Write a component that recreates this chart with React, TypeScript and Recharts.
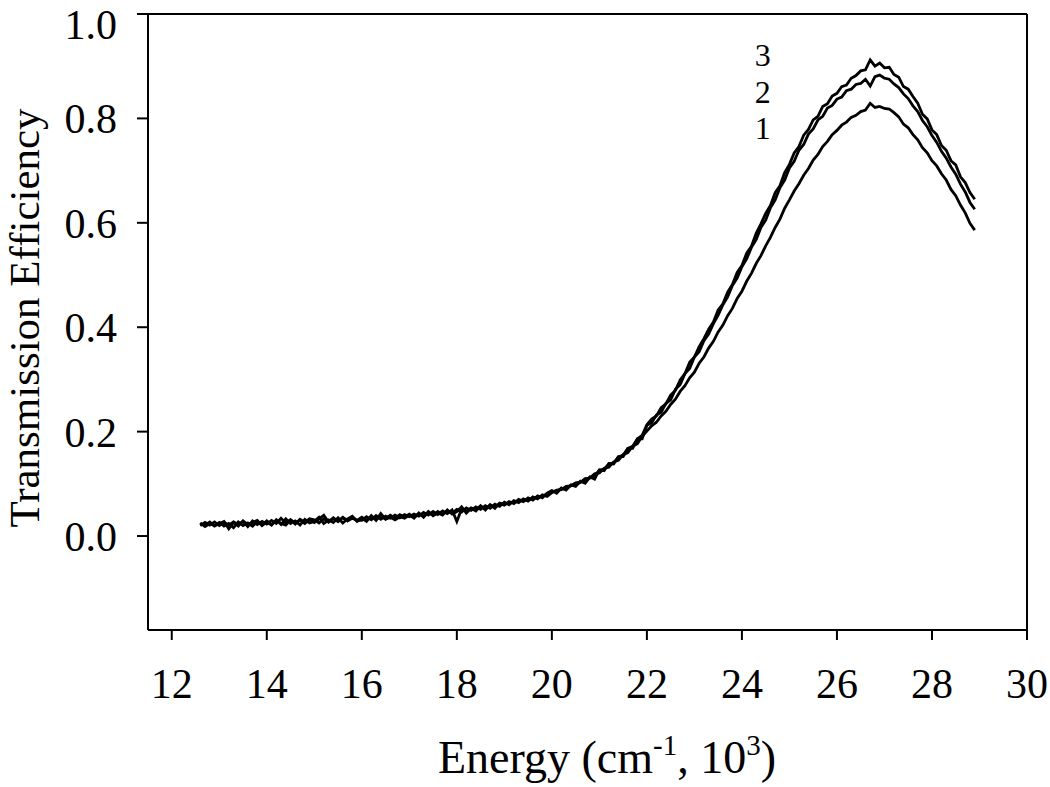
import {
  LineChart,
  Line,
  XAxis,
  YAxis,
  ReferenceLine,
  ReferenceDot,
} from "recharts";

const FONT = "'Liberation Serif', 'Times New Roman', serif";

// sampling grid of the spectra (10^3 cm^-1)
const energyStart = 12.6;
const energyStep = 0.1;

// curve 1 (lowest peak)
const series1 = [
  0.025, 0.018, 0.024, 0.020,
  0.026, 0.019, 0.024, 0.016, 0.027, 0.020, 0.025, 0.019, 0.028, 0.021,
  0.029, 0.022, 0.030, 0.024, 0.021, 0.031, 0.025, 0.030, 0.024, 0.032,
  0.026, 0.033, 0.040, 0.027, 0.034, 0.028, 0.035, 0.029, 0.036, 0.030,
  0.036, 0.030, 0.038, 0.032, 0.037, 0.033, 0.040, 0.034, 0.041, 0.036,
  0.042, 0.036, 0.043, 0.038, 0.045, 0.040, 0.047, 0.041, 0.048, 0.044,
  0.051, 0.046, 0.054, 0.049, 0.056, 0.051, 0.058, 0.053, 0.061, 0.057,
  0.065, 0.060, 0.068, 0.064, 0.071, 0.067, 0.075, 0.071, 0.079, 0.076,
  0.083, 0.088, 0.089, 0.095, 0.096, 0.102, 0.103, 0.110, 0.111, 0.119,
  0.121, 0.130, 0.132, 0.142, 0.145, 0.156, 0.160, 0.172, 0.177, 0.191,
  0.201, 0.211, 0.218, 0.230, 0.239, 0.252, 0.262, 0.277, 0.288, 0.303,
  0.314, 0.331, 0.343, 0.360, 0.373, 0.391, 0.404, 0.422, 0.436, 0.455,
  0.469, 0.488, 0.503, 0.522, 0.537, 0.556, 0.572, 0.591, 0.607, 0.628,
  0.644, 0.661, 0.675, 0.691, 0.704, 0.720, 0.731, 0.746, 0.756, 0.769,
  0.777, 0.787, 0.793, 0.802, 0.806, 0.813, 0.816, 0.829, 0.821, 0.823,
  0.819, 0.818, 0.811, 0.803, 0.789, 0.782, 0.769, 0.759, 0.744, 0.734,
  0.719, 0.709, 0.694, 0.682, 0.664, 0.652, 0.634, 0.619, 0.599, 0.586,
];

// curve 2
const series2 = [
  0.020, 0.026, 0.021, 0.027,
  0.020, 0.026, 0.021, 0.027, 0.022, 0.028, 0.018, 0.029, 0.022, 0.028,
  0.023, 0.030, 0.024, 0.034, 0.025, 0.031, 0.023, 0.032, 0.026, 0.033,
  0.031, 0.025, 0.033, 0.027, 0.035, 0.028, 0.036, 0.029, 0.034, 0.030,
  0.030, 0.037, 0.031, 0.039, 0.032, 0.038, 0.034, 0.040, 0.035, 0.041,
  0.037, 0.042, 0.038, 0.045, 0.040, 0.047, 0.041, 0.048, 0.043, 0.050,
  0.028, 0.052, 0.047, 0.054, 0.050, 0.057, 0.052, 0.059, 0.055, 0.062,
  0.059, 0.066, 0.062, 0.070, 0.066, 0.073, 0.069, 0.077, 0.073, 0.082,
  0.087, 0.082, 0.092, 0.088, 0.098, 0.095, 0.105, 0.101, 0.113, 0.109,
  0.127, 0.125, 0.139, 0.138, 0.152, 0.152, 0.168, 0.168, 0.186, 0.186,
  0.212, 0.217, 0.232, 0.237, 0.254, 0.261, 0.281, 0.290, 0.311, 0.321,
  0.343, 0.353, 0.374, 0.387, 0.407, 0.423, 0.443, 0.458, 0.480, 0.494,
  0.516, 0.531, 0.553, 0.568, 0.591, 0.605, 0.629, 0.644, 0.667, 0.682,
  0.705, 0.718, 0.739, 0.750, 0.770, 0.780, 0.797, 0.804, 0.820, 0.825,
  0.837, 0.841, 0.853, 0.856, 0.865, 0.867, 0.875, 0.862, 0.880, 0.883,
  0.877, 0.875, 0.866, 0.859, 0.847, 0.838, 0.824, 0.813, 0.796, 0.784,
  0.767, 0.754, 0.737, 0.724, 0.707, 0.693, 0.674, 0.659, 0.639, 0.626,
];

// curve 3 (highest peak)
const series3 = [
  0.023, 0.021, 0.027, 0.019,
  0.024, 0.028, 0.014, 0.026, 0.019, 0.029, 0.022, 0.026, 0.030, 0.020,
  0.027, 0.021, 0.031, 0.022, 0.033, 0.024, 0.029, 0.021, 0.032, 0.025,
  0.028, 0.036, 0.024, 0.031, 0.026, 0.035, 0.025, 0.033, 0.038, 0.028,
  0.034, 0.028, 0.039, 0.030, 0.043, 0.032, 0.036, 0.031, 0.037, 0.034,
  0.040, 0.034, 0.044, 0.036, 0.047, 0.039, 0.044, 0.040, 0.050, 0.042,
  0.047, 0.056, 0.044, 0.053, 0.048, 0.058, 0.050, 0.060, 0.053, 0.063,
  0.061, 0.064, 0.064, 0.067, 0.068, 0.070, 0.072, 0.074, 0.076, 0.081,
  0.086, 0.085, 0.091, 0.090, 0.097, 0.098, 0.103, 0.107, 0.112, 0.116,
  0.126, 0.128, 0.138, 0.140, 0.151, 0.155, 0.168, 0.172, 0.186, 0.193,
  0.213, 0.224, 0.230, 0.246, 0.253, 0.270, 0.279, 0.299, 0.311, 0.333,
  0.343, 0.363, 0.378, 0.396, 0.410, 0.433, 0.445, 0.467, 0.482, 0.505,
  0.518, 0.542, 0.555, 0.580, 0.598, 0.618, 0.633, 0.658, 0.671, 0.696,
  0.712, 0.734, 0.746, 0.768, 0.779, 0.797, 0.804, 0.823, 0.828, 0.843,
  0.848, 0.861, 0.864, 0.877, 0.882, 0.891, 0.893, 0.912, 0.900, 0.906,
  0.897, 0.898, 0.884, 0.879, 0.861, 0.856, 0.842, 0.829, 0.808, 0.799,
  0.778, 0.769, 0.748, 0.739, 0.719, 0.711, 0.688, 0.677, 0.658, 0.645,
];

const xTicks = [12, 14, 16, 18, 20, 22, 24, 26, 28, 30];
const yTicks = [0, 0.2, 0.4, 0.6, 0.8, 1.0];

// curve labels: [text, energy, efficiency]
const curveLabels: [string, number, number][] = [
  ["3", 24.44, 0.923],
  ["2", 24.44, 0.851],
  ["1", 24.44, 0.783],
];

const data = series1.map((v, i) => ({
  energy: +(energyStart + i * energyStep).toFixed(1),
  s1: v,
  s2: series2[i],
  s3: series3[i],
}));

const XTitle = () => (
  <text
    x={607}
    y={773}
    textAnchor="middle"
    fontFamily={FONT}
    fontSize={46}
    fill="#000"
  >
    Energy (cm
    <tspan dy={-18} fontSize={29}>
      -1
    </tspan>
    <tspan dy={18}>, 10</tspan>
    <tspan dy={-18} fontSize={29}>
      3
    </tspan>
    <tspan dy={18}>)</tspan>
  </text>
);

const YTitle = () => (
  <text
    x={39}
    y={318}
    transform="rotate(-90 39 318)"
    textAnchor="middle"
    fontFamily={FONT}
    fontSize={43}
    fill="#000"
  >
    Transmission Efficiency
  </text>
);

export default function App() {
  return (
    <div style={{ position: "absolute", left: 0, top: 0, background: "#fff" }}>
      <LineChart
        width={1050}
        height={787}
        data={data}
        margin={{ top: 14, right: 23, left: 0, bottom: 0 }}
      >
        <XAxis
          dataKey="energy"
          type="number"
          domain={[11.5, 30]}
          ticks={xTicks}
          height={157}
          stroke="#000"
          strokeWidth={2}
          tickSize={10}
          tickMargin={28}
          tick={{ fill: "#000", fontSize: 42, fontFamily: FONT }}
          label={<XTitle />}
        />
        <YAxis
          type="number"
          domain={[-0.18, 1.0]}
          ticks={yTicks}
          width={148}
          stroke="#000"
          strokeWidth={2}
          tickSize={11}
          tickMargin={20}
          tickFormatter={(v: number) => v.toFixed(1)}
          tick={{ fill: "#000", fontSize: 42, fontFamily: FONT }}
          label={<YTitle />}
        />
        <ReferenceLine y={1.0} stroke="#000" strokeWidth={2} />
        <ReferenceLine x={30} stroke="#000" strokeWidth={2} />
        <Line
          type="linear"
          dataKey="s1"
          stroke="#000"
          strokeWidth={2.8}
          dot={false}
          isAnimationActive={false}
        />
        <Line
          type="linear"
          dataKey="s2"
          stroke="#000"
          strokeWidth={2.8}
          dot={false}
          isAnimationActive={false}
        />
        <Line
          type="linear"
          dataKey="s3"
          stroke="#000"
          strokeWidth={2.8}
          dot={false}
          isAnimationActive={false}
        />
        {curveLabels.map(([t, x, y]) => (
          <ReferenceDot
            key={t}
            x={x}
            y={y}
            r={0}
            stroke="none"
            fill="none"
            label={{
              value: t,
              position: "center",
              fill: "#000",
              fontSize: 32,
              fontFamily: FONT,
            }}
          />
        ))}
      </LineChart>
    </div>
  );
}
